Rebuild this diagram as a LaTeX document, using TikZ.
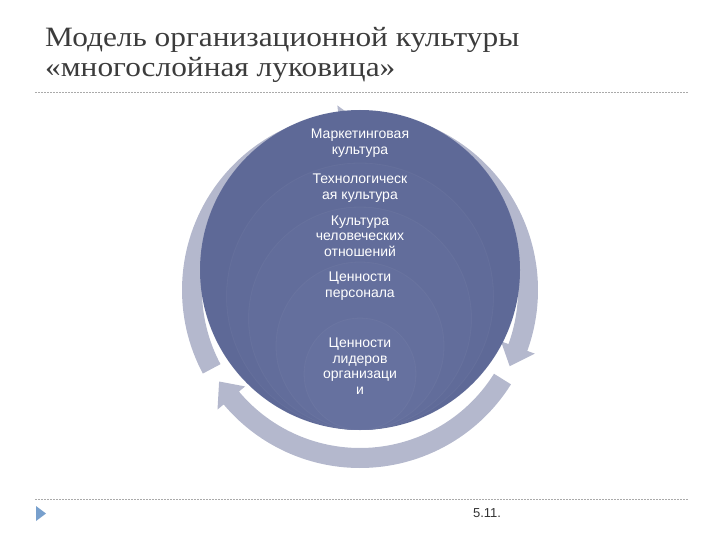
\documentclass[tikz,border=0pt]{standalone}
\usepackage{fontspec}
\setmainfont[FakeStretch=1.12]{Liberation Serif}
\newfontfamily\lsans{Liberation Sans}
\usetikzlibrary{calc}
\definecolor{ringcol}{RGB}{180,184,205}
\definecolor{layA}{RGB}{94,105,151}
\definecolor{layB}{RGB}{96,107,153}
\definecolor{layC}{RGB}{98,109,155}
\definecolor{layD}{RGB}{100,111,157}
\definecolor{layE}{RGB}{102,113,159}
\definecolor{titlecol}{RGB}{60,60,60}
\definecolor{rulecol}{RGB}{170,170,170}
\definecolor{markcol}{RGB}{120,160,205}
\tikzset{
  layer/.style={draw=white, draw opacity=0.04, line width=0.8pt},
  lbl/.style={text=white, align=center, font=\lsans\fontsize{14}{15.5}\selectfont, inner sep=0pt},
  rulestyle/.style={draw=rulecol, line width=0.6pt, dash pattern=on 2pt off 1pt},
  ttl/.style={text=titlecol, anchor=base west, inner sep=0pt, font=\fontsize{28}{30}\selectfont},
}
\begin{document}
\begin{tikzpicture}[x=1pt,y=1pt]
\useasboundingbox (0,0) rectangle (720,-540);
% title
\node[ttl] (t1) at (45,-47) {Модель организационной культуры};
\node[ttl] (t2) at (45,-77) {«многослойная луковица»};
\coordinate (r1a) at (35,-92);
\coordinate (r1b) at (688,-92);
\draw[rulestyle] (r1a) -- (r1b);
% cycle ring of arrows (start angle / body end / tip)
\coordinate (rc) at (360,-290);
\foreach \s/\e/\t in {88/-20/-27, -32/-140/-147, -152/-263/-270}{
  \fill[ringcol] ($(rc)+(\s:178pt)$) arc[start angle=\s, end angle=\e, radius=178pt]
    -- ($(rc)+(\e:186pt)$) -- ($(rc)+(\t:168pt)$) -- ($(rc)+(\e:150pt)$)
    -- ($(rc)+(\e:158pt)$) arc[start angle=\e, end angle=\s, radius=158pt] -- cycle;
}
% onion layers, all tangent at bottom (y=-430)
\fill[layA,layer] (360,-270) circle[radius=160pt];
\fill[layB,layer] (360,-296.5) circle[radius=133.5pt];
\fill[layC,layer] (360,-318.5) circle[radius=111.5pt];
\fill[layD,layer] (360,-346) circle[radius=84pt];
\fill[layE,layer] (360,-374) circle[radius=56pt];
% labels
\node[lbl] (l1) at (360,-143) {Маркетинговая\\культура};
\node[lbl] (l2) at (360,-188) {Технологическ\\ая культура};
\node[lbl] (l3) at (360,-236) {Культура\\человеческих\\отношений};
\node[lbl] (l4) at (360,-286) {Ценности\\персонала};
\node[lbl] (l5) at (360,-366) {Ценности\\лидеров\\организаци\\и};
% footer
\coordinate (r2a) at (35,-499);
\coordinate (r2b) at (688,-499);
\draw[rulestyle] (r2a) -- (r2b);
\fill[markcol] (36,-506) -- (46,-513.5) -- (36,-521) -- cycle;
\node[text=black!80, font=\lsans\fontsize{13}{15}\selectfont, inner sep=0pt] (pg) at (487,-513) {5.11.};
\end{tikzpicture}
\end{document}
